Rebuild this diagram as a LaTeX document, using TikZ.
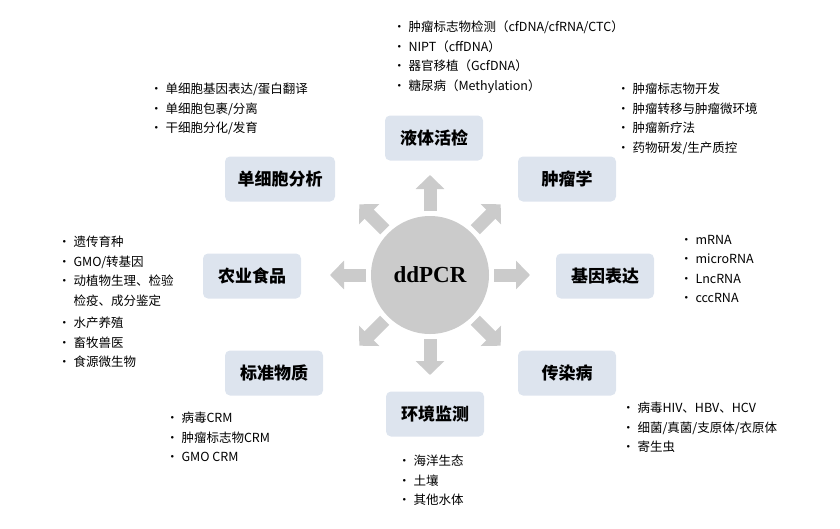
\documentclass[tikz,border=0pt]{standalone}
\usepackage{fontspec}
\setmainfont{Noto Sans CJK SC}
\newfontfamily\serifb{Liberation Serif}
\usetikzlibrary{arrows.meta,calc}
\begin{document}
\begin{tikzpicture}[x=1pt,y=-1pt,
  box/.style={fill=boxc,rounded corners=5pt,minimum width=98pt,minimum height=45pt,font=\fontsize{17}{20}\selectfont\bfseries},
  lst/.style={anchor=north west,align=left,font=\fontsize{12.5}{19.5}\selectfont,inner sep=0pt},
  arr/.style={draw=arrc,line width=13pt,-{Triangle[width=28pt,length=14pt]}}]
\definecolor{boxc}{HTML}{DDE4EE}
\definecolor{arrc}{HTML}{CBCBCB}
\useasboundingbox (0,0) rectangle (840,528);
\node[circle,fill=arrc,minimum size=118pt,font=\serifb\fontsize{23}{26}\selectfont\bfseries] (c) at (430,275) {ddPCR};
\foreach \a/\n in {0/a0,45/a1,90/a2,135/a3,180/a4,225/a5,270/a6,315/a7}{
  \coordinate (\n s) at ($(c)+(\a:64)$);
  \coordinate (\n e) at ($(c)+(\a:100)$);
  \draw[arr] (\n s) -- (\n e);
}
\node[box] (b1) at (434,138) {液体活检};
\node[box] (b2) at (567,179) {肿瘤学};
\node[box] (b3) at (605,276) {基因表达};
\node[box] (b4) at (567,373) {传染病};
\node[box] (b5) at (435,414) {环境监测};
\node[box] (b6) at (274,373) {标准物质};
\node[box] (b7) at (252,276) {农业食品};
\node[box,minimum width=110pt] (b8) at (280,179) {单细胞分析};
\node[lst] (l1) at (393,21) {• 肿瘤标志物检测（cfDNA/cfRNA/CTC）\\• NIPT（cffDNA）\\• 器官移植（GcfDNA）\\• 糖尿病（Methylation）};
\node[lst] (l8) at (150,83) {• 单细胞基因表达/蛋白翻译\\• 单细胞包裹/分离\\• 干细胞分化/发育};
\node[lst] (l2) at (617,83) {• 肿瘤标志物开发\\• 肿瘤转移与肿瘤微环境\\• 肿瘤新疗法\\• 药物研发/生产质控};
\node[lst] (l3) at (680,235) {• mRNA\\• microRNA\\• LncRNA\\• cccRNA};
\node[lst] (l7) at (58,236) {• 遗传育种\\• GMO/转基因\\• 动植物生理、检验\\\phantom{• }检疫、成分鉴定\\[3pt]• 水产养殖\\• 畜牧兽医\\• 食源微生物};
\node[lst] (l4) at (622,402) {• 病毒HIV、HBV、HCV\\• 细菌/真菌/支原体/衣原体\\• 寄生虫};
\node[lst] (l6) at (166,412) {• 病毒CRM\\• 肿瘤标志物CRM\\• GMO CRM};
\node[lst] (l5) at (398,455) {• 海洋生态\\• 土壤\\• 其他水体};
\end{tikzpicture}
\end{document}
